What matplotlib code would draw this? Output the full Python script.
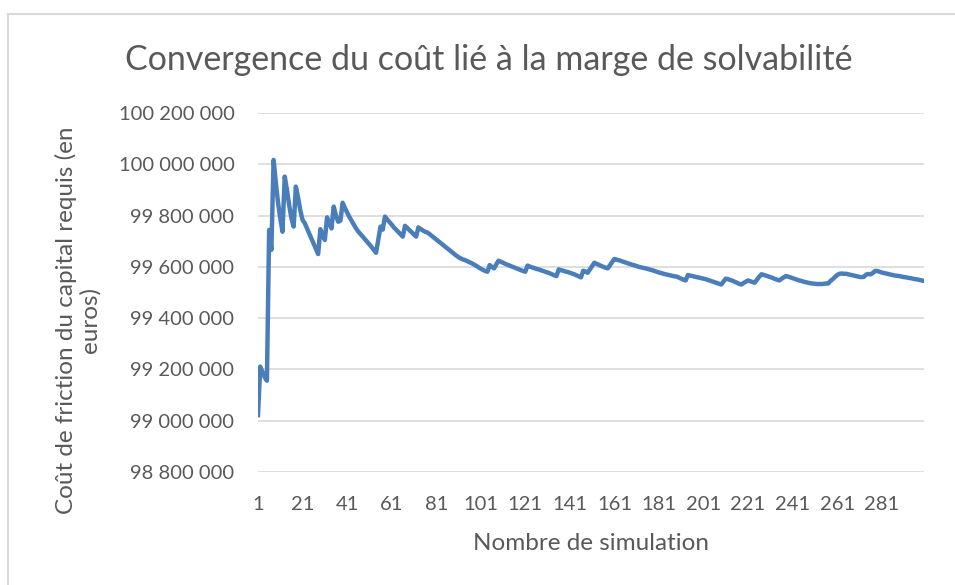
import numpy as np
import matplotlib
matplotlib.use("Agg")
import matplotlib.pyplot as plt
from matplotlib.lines import Line2D

# cout en milliers d'euros (simulations 1 a 300)
cout_k = [
    99022, 99211, 99190, 99170, 99156, 99744, 99666, 100017, 99930, 99850,
    99790, 99737, 99952, 99900, 99840, 99790, 99757, 99913, 99870, 99820,
    99783, 99770, 99750, 99730, 99710, 99690, 99670, 99650, 99747, 99725,
    99705, 99793, 99770, 99750, 99835, 99800, 99776, 99780, 99850, 99830,
    99812, 99795, 99780, 99765, 99750, 99738, 99728, 99718, 99708, 99698,
    99688, 99677, 99666, 99655, 99705, 99757, 99745, 99796, 99785, 99775,
    99765, 99754, 99745, 99736, 99727, 99718, 99760, 99752, 99743, 99735,
    99726, 99718, 99754, 99748, 99742, 99737, 99734, 99728, 99721, 99714,
    99707, 99700, 99693, 99686, 99679, 99672, 99665, 99658, 99651, 99644,
    99638, 99633, 99629, 99626, 99622, 99618, 99614, 99609, 99604, 99598,
    99593, 99588, 99584, 99581, 99607, 99600, 99594, 99610, 99624, 99620,
    99616, 99612, 99608, 99605, 99601, 99598, 99594, 99591, 99587, 99584,
    99581, 99605, 99601, 99598, 99595, 99592, 99590, 99587, 99584, 99581,
    99578, 99575, 99571, 99567, 99564, 99590, 99587, 99585, 99582, 99580,
    99577, 99574, 99571, 99567, 99563, 99559, 99585, 99582, 99577, 99590,
    99603, 99616, 99612, 99608, 99604, 99600, 99597, 99594, 99606, 99619,
    99631, 99628, 99626, 99623, 99620, 99617, 99614, 99611, 99608, 99606,
    99603, 99600, 99598, 99596, 99594, 99592, 99589, 99587, 99584, 99581,
    99578, 99576, 99573, 99571, 99569, 99567, 99565, 99563, 99562, 99558,
    99554, 99550, 99547, 99568, 99566, 99564, 99562, 99560, 99558, 99556,
    99554, 99552, 99549, 99546, 99543, 99540, 99537, 99534, 99531, 99543,
    99554, 99552, 99549, 99546, 99542, 99538, 99534, 99531, 99537, 99542,
    99547, 99544, 99541, 99538, 99550, 99561, 99571, 99569, 99566, 99563,
    99560, 99557, 99553, 99550, 99547, 99553, 99559, 99564, 99562, 99559,
    99556, 99553, 99550, 99547, 99545, 99542, 99540, 99538, 99536, 99535,
    99534, 99533, 99533, 99533, 99534, 99535, 99535, 99545, 99552, 99560,
    99568, 99573, 99574, 99573, 99573, 99571, 99569, 99567, 99565, 99563,
    99561, 99560, 99561, 99570, 99572, 99571, 99576, 99584, 99584, 99581,
    99578, 99576, 99574, 99572, 99570, 99568, 99566, 99565, 99564, 99562,
    99560, 99559, 99557, 99556, 99554, 99552, 99551, 99549, 99547, 99545,
]
simulations = np.arange(1, len(cout_k) + 1)
cout = np.array(cout_k) * 1000

x_ticks = [1, 21, 41, 61, 81, 101, 121, 141, 161, 181, 201, 221, 241, 261, 281]
y_ticks = [98800000, 99000000, 99200000, 99400000, 99600000, 99800000, 100000000, 100200000]

gris = "#595959"
plt.rcParams["font.family"] = ["Lato", "DejaVu Sans"]

fig = plt.figure(figsize=(9.55, 5.85), dpi=100)
ax = fig.add_axes([258/955, 1-472/585, (924-258)/955, (472-113)/585])

ax.plot(simulations, cout, color="#4a7ebb", linewidth=3.2, solid_joinstyle="round")

ax.set_xlim(1, 300)
ax.set_ylim(98800000, 100200000)
ax.set_xticks(x_ticks)
ax.set_xticklabels([str(t) for t in x_ticks])
ax.set_yticks(y_ticks)
ax.set_yticklabels(["{:,.0f}".format(v).replace(",", " ") for v in y_ticks])
ax.tick_params(axis="both", length=0, labelsize=14.5, labelcolor=gris)
ax.tick_params(axis="x", pad=17)
ax.tick_params(axis="y", pad=17)
ax.grid(axis="y", color="#d9d9d9", linewidth=1.2)
ax.set_axisbelow(True)
for s in ax.spines.values():
    s.set_visible(False)

fig.text(489/955, 1-60/585, "Convergence du coût lié à la marge de solvabilité",
         ha="center", va="center", fontsize=24.5, color=gris)
fig.text(591/955, 1-543/585, "Nombre de simulation",
         ha="center", va="center", fontsize=17.5, color=gris)
fig.text(78/955, 1-320/585, "Coût de friction du capital requis (en\neuros)",
         ha="center", va="center", rotation=90, fontsize=17.5, color=gris,
         multialignment="center", linespacing=1.1)

# cadre du graphique
fig.add_artist(Line2D([8/955, 8/955], [0, 1-14/585], color="#d9d9d9", linewidth=1.5))
fig.add_artist(Line2D([8/955, 1], [1-14/585, 1-14/585], color="#d9d9d9", linewidth=1.5))

fig.savefig("out.png", dpi=100)
